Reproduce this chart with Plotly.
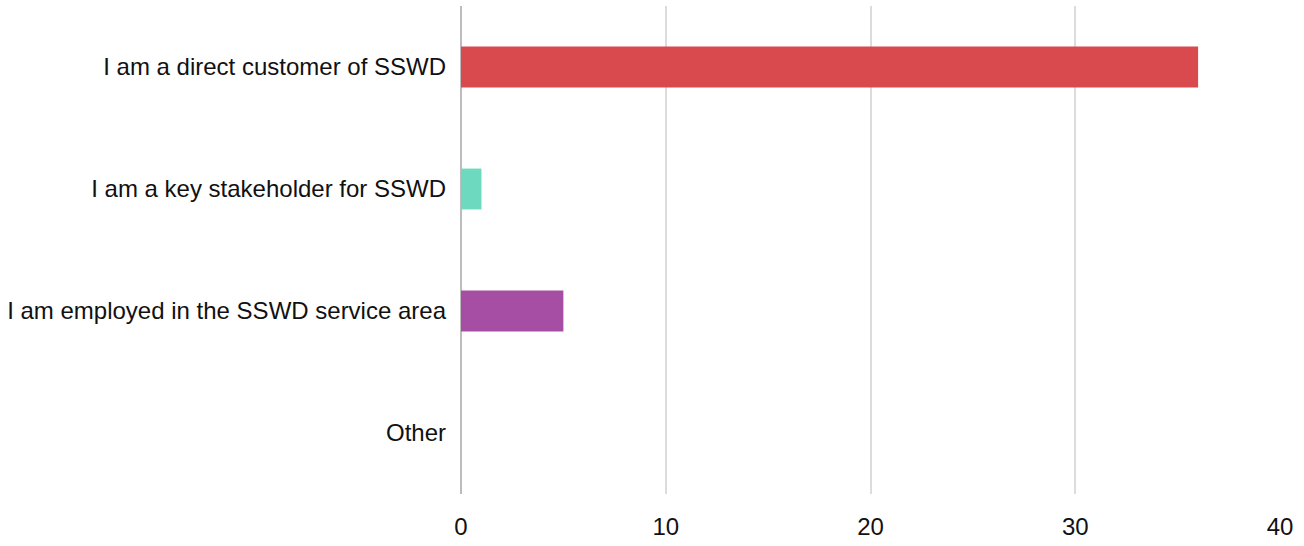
import plotly.graph_objects as go

categories = [
    "I am a direct customer of SSWD",
    "I am a key stakeholder for SSWD",
    "I am employed in the SSWD service area",
    "Other",
]
counts = [36, 1, 5, 0]
bar_colors = ["#d94a4e", "#6ddac0", "#a64ea3", "#4a90d9"]
x_ticks = [0, 10, 20, 30, 40]

fig = go.Figure(
    go.Bar(
        y=categories,
        x=counts,
        orientation="h",
        marker=dict(color=bar_colors, line=dict(width=0)),
        width=0.335,
        hoverinfo="x+y",
    )
)

fig.update_layout(
    width=1304,
    height=546,
    margin=dict(l=461, r=24, t=6, b=52),
    paper_bgcolor="white",
    plot_bgcolor="white",
    showlegend=False,
    font=dict(family="Liberation Sans, Arial, sans-serif", size=24, color="#111111"),
)

fig.update_xaxes(
    range=[0, 40],
    tickvals=x_ticks,
    ticktext=[str(v) for v in x_ticks],
    showgrid=True,
    gridcolor="#dcdcdc",
    gridwidth=1.5,
    zeroline=True,
    zerolinecolor="#bdbdbd",
    zerolinewidth=2,
    showline=False,
    ticks="",
    ticklen=0,
    ticklabelstandoff=16,
    tickfont=dict(size=24),
)
fig.update_yaxes(
    categoryorder="array",
    categoryarray=categories[::-1],
    showgrid=False,
    zeroline=False,
    showline=False,
    ticks="",
    ticklabelstandoff=14,
    tickfont=dict(size=24),
)

fig.write_html("out.html")
